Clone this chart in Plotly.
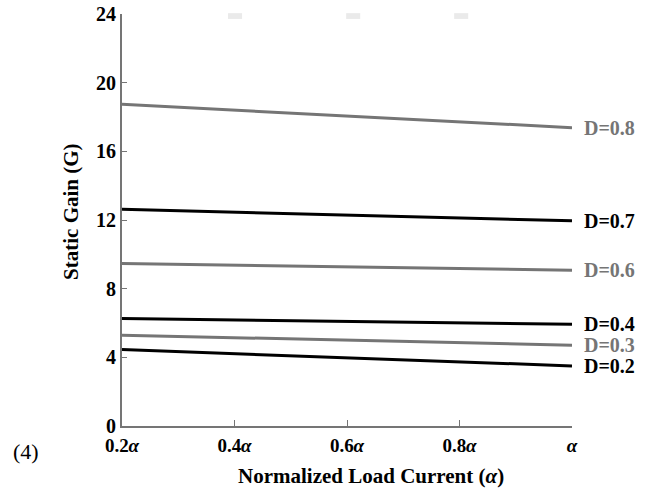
import plotly.graph_objects as go

# Data
alpha = [0.2, 0.4, 0.6, 0.8, 1.0]
tick_vals = [0.2, 0.4, 0.6, 0.8, 1.0]
tick_text = ["0.2<i>α</i>", "0.4<i>α</i>", "0.6<i>α</i>", "0.8<i>α</i>", "<i>α</i>"]
y_ticks = [0, 4, 8, 12, 16, 20, 24]

d_labels = ["D=0.8", "D=0.7", "D=0.6", "D=0.4", "D=0.3", "D=0.2"]
g_d08 = [18.74, 18.40, 18.06, 17.72, 17.38]
g_d07 = [12.62, 12.45, 12.28, 12.12, 11.95]
g_d06 = [9.47, 9.37, 9.28, 9.18, 9.08]
g_d04 = [6.26, 6.18, 6.10, 6.01, 5.93]
g_d03 = [5.29, 5.14, 5.00, 4.86, 4.71]
g_d02 = [4.45, 4.21, 3.98, 3.74, 3.50]
series = [g_d08, g_d07, g_d06, g_d04, g_d03, g_d02]

GRAY = "#757575"
BLACK = "#000000"
colors = [GRAY, BLACK, GRAY, BLACK, GRAY, BLACK]
FONT = "Liberation Serif"

fig = go.Figure()
for name, ys, c in zip(d_labels, series, colors):
    fig.add_trace(go.Scatter(x=alpha, y=ys, mode="lines", name=name,
                             line=dict(color=c, width=3), showlegend=False))
    fig.add_annotation(x=alpha[-1], y=ys[-1], text="<b>%s</b>" % name,
                       showarrow=False, xanchor="left", yanchor="middle",
                       xshift=10, font=dict(family=FONT, size=20, color=c))

fig.update_layout(
    width=662, height=494, autosize=False,
    margin=dict(l=122, r=90, t=14, b=68, pad=0),
    paper_bgcolor="white", plot_bgcolor="white",
    font=dict(family=FONT, size=19, color="black"),
    xaxis=dict(range=[0.2, 1.0], tickvals=tick_vals, ticktext=["<b>%s</b>" % t for t in tick_text],
               showgrid=False, zeroline=False, showline=True, linecolor=GRAY, linewidth=2,
               ticks="inside", ticklen=6, tickcolor=GRAY, tickwidth=1, automargin=False,
               ticklabelstandoff=1, ticklabeloverflow="allow",
               tickfont=dict(family=FONT, size=19, color="black")),
    yaxis=dict(range=[0, 24], tickvals=y_ticks, ticktext=["<b>%d</b>" % v for v in y_ticks],
               showgrid=False, zeroline=False, showline=True, linecolor=GRAY, linewidth=2,
               ticks="inside", ticklen=5, tickcolor=GRAY, tickwidth=1, automargin=False,
               ticklabeloverflow="allow",
               tickfont=dict(family=FONT, size=20, color="black")),
)

# axis titles
fig.add_annotation(xref="paper", yref="paper", x=-0.113, y=0.52, text="<b>Static Gain (G)</b>",
                   textangle=-90, showarrow=False, xanchor="center", yanchor="middle",
                   font=dict(family=FONT, size=21, color="black"))
fig.add_annotation(xref="paper", yref="paper", x=0.553, y=-0.088,
                   text="<b>Normalized Load Current (<i>α</i>)</b>",
                   showarrow=False, xanchor="center", yanchor="top",
                   font=dict(family=FONT, size=21, color="black"))
fig.add_annotation(xref="paper", yref="paper", x=-0.246, y=-0.063, text="(4)",
                   showarrow=False, xanchor="left", yanchor="middle",
                   font=dict(family=FONT, size=22, color="black"))

# faint artefacts at the top
for xc in [0.401, 0.611, 0.803]:
    fig.add_shape(type="rect", xref="x", yref="paper", x0=xc - 0.0125, x1=xc + 0.0125,
                  y0=0.988, y1=1.002, fillcolor="#eaeaea", line=dict(width=0), layer="below")

fig.write_html("out.html", config={"displayModeBar": False},
               post_script="document.body.style.margin='0';")
